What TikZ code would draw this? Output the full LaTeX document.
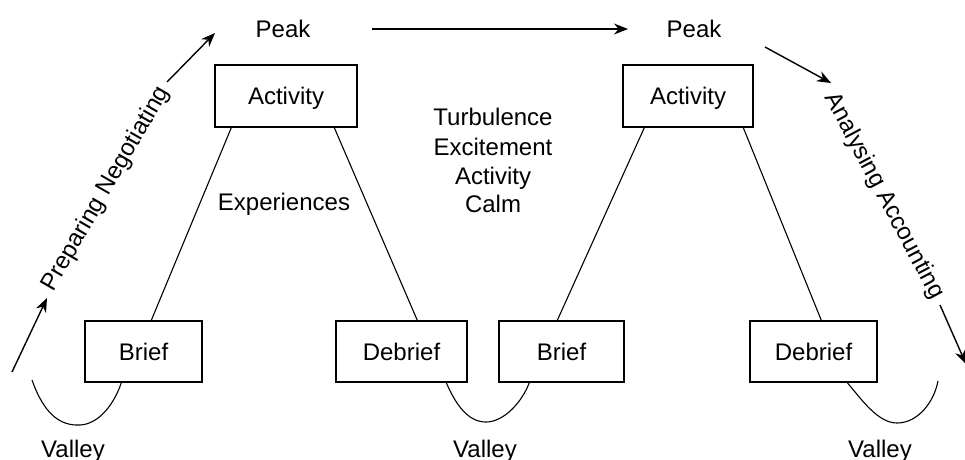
\documentclass[tikz,border=0pt]{standalone}
\usepackage{fontspec}
\setmainfont{Liberation Sans}
\usetikzlibrary{arrows.meta}
\tikzset{
  lbl/.style={font=\fontsize{24}{29}\selectfont, inner sep=0pt},
  boxnode/.style={draw, line width=1.4pt, font=\fontsize{24}{29}\selectfont,
    text height=17pt, text depth=0pt, inner sep=0pt},
  conn/.style={line width=1.1pt},
  arr/.style={line width=1.4pt, -{Stealth[length=14pt,width=11pt]}},
  plainline/.style={line width=1.4pt}
}
\begin{document}
\begin{tikzpicture}[x=1pt,y=-1pt]
\useasboundingbox (0,0) rectangle (965,459);
% boxes
\node[boxnode, minimum width=142pt, minimum height=62pt] (act1) at (286,96) {Activity};
\node[boxnode, minimum width=130pt, minimum height=62pt] (act2) at (688,96) {Activity};
\node[boxnode, minimum width=117pt, minimum height=61pt] (brief1) at (143.5,351.5) {Brief};
\node[boxnode, minimum width=131pt, minimum height=61pt] (debrief1) at (401.5,351.5) {Debrief};
\node[boxnode, minimum width=125pt, minimum height=61pt] (brief2) at (561.5,351.5) {Brief};
\node[boxnode, minimum width=127pt, minimum height=61pt] (debrief2) at (813.5,351.5) {Debrief};
% labels
\node[lbl, anchor=base] (peak1) at (283,37) {Peak};
\node[lbl, anchor=base] (peak2) at (694,37) {Peak};
\node[lbl, anchor=base] (exp) at (284,210) {Experiences};
\node[lbl, anchor=base] (t1) at (493,125) {Turbulence};
\node[lbl, anchor=base] (t2) at (493,155) {Excitement};
\node[lbl, anchor=base] (t3) at (493,184) {Activity};
\node[lbl, anchor=base] (t4) at (493,212) {Calm};
\node[lbl, anchor=base] (v1) at (73,457) {Valley};
\node[lbl, anchor=base] (v2) at (485,457) {Valley};
\node[lbl, anchor=base] (v3) at (880,457) {Valley};
\node[lbl, rotate=60] (prep) at (106,189) {Preparing Negotiating};
\node[lbl, rotate=-62] (anal) at (884,196) {Analysing Accounting};
% connector coordinates
\coordinate (la0) at (12,372);
\coordinate (la1) at (47,298);
\coordinate (la2) at (167,82);
\coordinate (la3) at (215,33);
\coordinate (ha0) at (372,29);
\coordinate (ha1) at (628,29);
\coordinate (ra0) at (765,47);
\coordinate (ra1) at (831,83);
\coordinate (ra2) at (940,305);
\coordinate (ra3) at (966,364);
\coordinate (vl) at (32,380);
\coordinate (vr) at (938,381);
% lines between boxes
\draw[conn] ([xshift=17pt]act1.south west) -- ([xshift=67pt]brief1.north west);
\draw[conn] ([xshift=120pt]act1.south west) -- ([xshift=82pt]debrief1.north west);
\draw[conn] ([xshift=22pt]act2.south west) -- ([xshift=59pt]brief2.north west);
\draw[conn] ([xshift=121pt]act2.south west) -- ([xshift=72pt]debrief2.north west);
% valleys
\draw[conn] (vl) .. controls (44,414) and (60,426) .. (80,425)
  .. controls (100,424) and (115,402) .. ([xshift=37pt]brief1.south west);
\draw[conn] ([xshift=111pt]debrief1.south west) .. controls (456,405) and (468,422) .. (486,422)
  .. controls (504,422) and (522,402) .. ([xshift=31pt]brief2.south west);
\draw[conn] ([xshift=98pt]debrief2.south west) .. controls (862,400) and (878,423) .. (897,423)
  .. controls (918,423) and (934,402) .. (vr);
% arrows
\draw[arr] (la0) -- (la1);
\draw[arr] (la2) -- (la3);
\draw[arr] (ha0) -- (ha1);
\draw[arr] (ra0) -- (ra1);
\draw[arr] (ra2) -- (ra3);
\end{tikzpicture}
\end{document}
